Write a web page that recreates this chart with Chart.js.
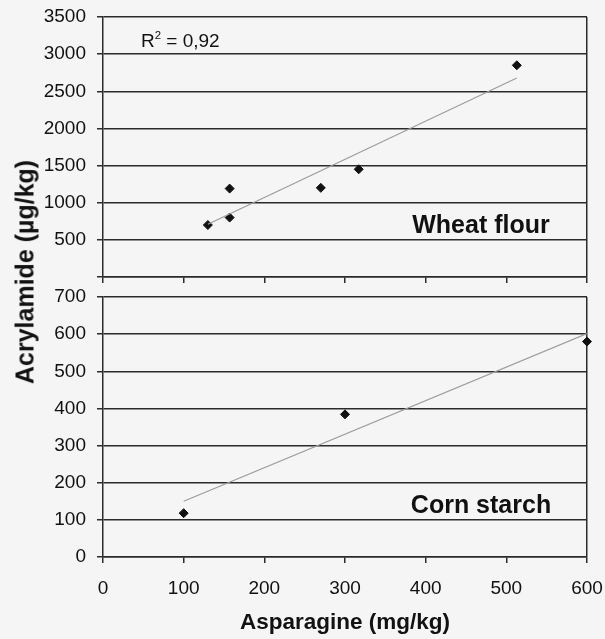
<!DOCTYPE html>
<html>
<head>
<meta charset="utf-8">
<script src="https://cdn.jsdelivr.net/npm/chart.js@4"></script>
<style>
  html, body { margin: 0; padding: 0; background: #f5f5f5; }
  #wrap { position: relative; width: 605px; height: 639px; overflow: hidden; }
  #wrap canvas { position: absolute; left: 0; }
  #ytitle {
    position: absolute; left: 25px; top: 272px;
    transform: translate(-50%, -50%) rotate(-90deg);
    font: bold 25px 'Liberation Sans', Arial, sans-serif;
    color: #111; white-space: nowrap;
  }
</style>
</head>
<body>
<div id="wrap">
  <canvas id="wheat" width="605" height="300" style="top:0"></canvas>
  <canvas id="corn" width="605" height="359" style="top:280px"></canvas>
  <div id="ytitle">Acrylamide (µg/kg)</div>
</div>
<script>
// data
const asparagineTicks = [0, 100, 200, 300, 400, 500, 600];
const wheatTicks = [0, 500, 1000, 1500, 2000, 2500, 3000, 3500];
const cornTicks = [0, 100, 200, 300, 400, 500, 600, 700];

const wheatAsparagine = [130, 157, 157, 270, 317, 513];
const wheatAcrylamide = [700, 800, 1190, 1200, 1450, 2850];
const cornAsparagine = [100, 300, 600];
const cornAcrylamide = [118, 384, 580];

const wheatLabel = 'Wheat flour';
const cornLabel = 'Corn starch';
const wheatR2 = ['R', '2', ' = 0,92'];   // base, superscript, rest
const xTitle = 'Asparagine (mg/kg)';

const dark = '#2b2b2b';
const family = "'Liberation Sans', Arial, sans-serif";
Chart.defaults.font.family = family;
Chart.defaults.font.size = 19;
Chart.defaults.color = '#111';

// linear trend line over the data range
function trendLine(xs, ys) {
    const n = xs.length;
    const mx = xs.reduce((a, b) => a + b, 0) / n;
    const my = ys.reduce((a, b) => a + b, 0) / n;
    let sxy = 0, sxx = 0;
    for (let i = 0; i < n; i++) {
        sxy += (xs[i] - mx) * (ys[i] - my);
        sxx += (xs[i] - mx) * (xs[i] - mx);
    }
    const slope = sxy / sxx;
    const icpt = my - slope * mx;
    const x0 = Math.min(...xs), x1 = Math.max(...xs);
    return [{ x: x0, y: icpt + slope * x0 }, { x: x1, y: icpt + slope * x1 }];
}

// plain text drawn on the canvas, parts can be superscript
const panelText = {
    id: 'panelText',
    afterDraw(chart, args, opts) {
        const ctx = chart.ctx;
        (opts.items || []).forEach(t => {
            ctx.save();
            ctx.fillStyle = '#111';
            ctx.textBaseline = 'alphabetic';
            ctx.textAlign = 'left';
            let total = 0;
            t.parts.forEach(p => {
                ctx.font = (t.bold ? 'bold ' : '') + (p.sup ? t.size * 0.6 : t.size) + 'px ' + family;
                p.w = ctx.measureText(p.text).width;
                total += p.w;
            });
            let x = t.align === 'center' ? t.x - total / 2 : t.x;
            t.parts.forEach(p => {
                ctx.font = (t.bold ? 'bold ' : '') + (p.sup ? t.size * 0.6 : t.size) + 'px ' + family;
                ctx.fillText(p.text, x, p.sup ? t.y - t.size * 0.42 : t.y);
                x += p.w;
            });
            ctx.restore();
        });
    }
};

function makePanel(id, xs, ys, yTicks, showX, items) {
    const points = xs.map((x, i) => ({ x: x, y: ys[i] }));
    return new Chart(document.getElementById(id), {
        type: 'scatter',
        data: {
            datasets: [{
                data: trendLine(xs, ys),
                showLine: true,
                borderColor: '#9c9c9c',
                borderWidth: 1.2,
                pointRadius: 0
            }, {
                data: points,
                pointStyle: 'rectRot',
                pointRadius: 4.5,
                backgroundColor: '#111',
                borderColor: '#111',
                clip: false
            }]
        },
        options: {
            responsive: false,
            animation: false,
            layout: { padding: { top: 17, right: 18, left: 0, bottom: 0 } },
            plugins: {
                legend: { display: false },
                tooltip: { enabled: false },
                panelText: { items: items }
            },
            scales: {
                x: {
                    type: 'linear',
                    min: asparagineTicks[0],
                    max: asparagineTicks[asparagineTicks.length - 1],
                    afterBuildTicks: s => { s.ticks = asparagineTicks.map(v => ({ value: v })); },
                    afterFit: s => {
                        s.height = showX ? 82 : 23;
                        s.paddingLeft = 0;
                        s.paddingRight = 0;
                    },
                    grid: {
                        color: c => (c.tick && c.tick.value === 600) ? dark : 'rgba(0,0,0,0)',
                        tickColor: dark,
                        lineWidth: 1.5,
                        tickLength: 6
                    },
                    border: { color: dark, width: 1.5 },
                    ticks: {
                        padding: 14,
                        maxRotation: 0,
                        color: showX ? '#111' : 'rgba(0,0,0,0)'
                    },
                    title: {
                        display: showX,
                        text: xTitle,
                        font: { size: 22.5, weight: 'bold' },
                        padding: { top: 0, bottom: 3 }
                    }
                },
                y: {
                    min: yTicks[0],
                    max: yTicks[yTicks.length - 1],
                    afterBuildTicks: s => { s.ticks = yTicks.map(v => ({ value: v })); },
                    afterFit: s => {
                        s.width = 103;
                        s.paddingTop = 0;
                        s.paddingBottom = 0;
                    },
                    grid: { color: dark, lineWidth: 1.5, tickLength: 6 },
                    border: { color: dark, width: 1.5 },
                    ticks: {
                        padding: 11,
                        callback: v => (showX || v !== 0) ? String(v) : ''
                    }
                }
            }
        },
        plugins: [panelText]
    });
}

makePanel('wheat', wheatAsparagine, wheatAcrylamide, wheatTicks, false, [
    { parts: [{ text: wheatR2[0] }, { text: wheatR2[1], sup: true }, { text: wheatR2[2] }],
      x: 141, y: 47, align: 'left', size: 19, bold: false },
    { parts: [{ text: wheatLabel }], x: 481, y: 233, align: 'center', size: 25, bold: true }
]);
makePanel('corn', cornAsparagine, cornAcrylamide, cornTicks, true, [
    { parts: [{ text: cornLabel }], x: 481, y: 233, align: 'center', size: 25, bold: true }
]);
</script>
</body>
</html>
